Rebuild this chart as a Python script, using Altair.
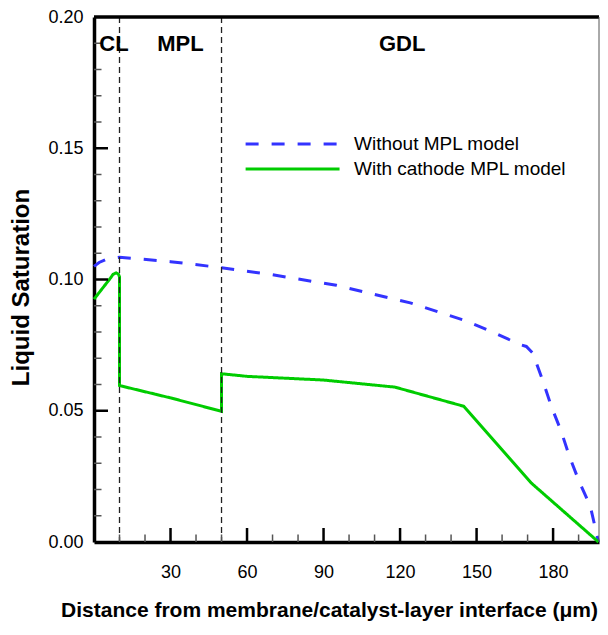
import altair as alt
import pandas as pd

# ---- data ----
series_names = ["Without MPL model", "With cathode MPL model"]

x_without = [0, 2, 5, 10, 30, 50, 70, 95, 124, 145, 157, 167, 169.5, 172, 175.8, 179.3, 183.2, 186.4, 190.2, 194.6, 197.8]
y_without = [0.1050, 0.1065, 0.1078, 0.1085, 0.1068, 0.1045, 0.1018, 0.0978, 0.0911, 0.0845, 0.0797, 0.0752, 0.0745, 0.0720, 0.0619, 0.0517, 0.0421, 0.0326, 0.0231, 0.0136, 0.0]

x_with = [0, 6.5, 7.5, 8.7, 9.6, 10, 10, 30, 50, 50, 60, 90, 118, 145, 171.4, 197.8]
y_with = [0.0925, 0.1006, 0.1020, 0.1025, 0.1020, 0.1010, 0.0596, 0.0549, 0.0498, 0.0641, 0.0631, 0.0617, 0.0590, 0.0517, 0.0225, 0.0]

boundary_x = [10, 50]
region_labels = ["CL", "MPL", "GDL"]
region_x = [7.8, 33.9, 120.8]

x_major = [30, 60, 90, 120, 150, 180]
x_minor = [10, 20, 40, 50, 70, 80, 100, 110, 130, 140, 160, 170, 190]
y_labels = [0.0, 0.05, 0.10, 0.15, 0.20]
y_major = [0.05, 0.10, 0.15]
y_minor = [0.01, 0.02, 0.03, 0.04, 0.06, 0.07, 0.08, 0.09, 0.11, 0.12, 0.13, 0.14, 0.16, 0.17, 0.18, 0.19]

# ---- tables ----
rows = []
for i, (xv, yv) in enumerate(zip(x_without, y_without)):
    rows.append({"series": series_names[0], "x": xv, "y": yv, "i": i})
for i, (xv, yv) in enumerate(zip(x_with, y_with)):
    rows.append({"series": series_names[1], "x": xv, "y": yv, "i": i})
df_lines = pd.DataFrame(rows)

W, H = 505, 525
FONT = "Liberation Sans"
xs = alt.Scale(domain=[0, 198], nice=False, zero=False)
ys = alt.Scale(domain=[0, 0.2], nice=False, zero=False)

leg = alt.Legend(
    title=None, orient="none", legendX=150, legendY=116,
    symbolType="M-1,0H9", symbolSize=353, symbolStrokeWidth=3,
    labelFontSize=19, labelFont=FONT, labelColor="black", labelOffset=88,
    labelLimit=400, rowPadding=4, padding=0, symbolOpacity=1,
)

lines = alt.Chart(df_lines).mark_line(strokeWidth=3).encode(
    x=alt.X("x:Q", scale=xs, axis=alt.Axis(
        values=x_major, title="Distance from membrane/catalyst-layer interface (\u03bcm)",
        titleFont=FONT, titleFontSize=21, titleFontWeight="bold", titleColor="black",
        titlePadding=18, titleX=235,
        labelFont=FONT, labelFontSize=18, labelColor="black", labelPadding=21,
        ticks=False, domainColor="black", domainWidth=3.5, grid=False,
    )),
    y=alt.Y("y:Q", scale=ys, axis=alt.Axis(
        values=y_labels, format=".2f", title="Liquid Saturation",
        titleFont=FONT, titleFontSize=24, titleFontWeight="bold", titleColor="black",
        titlePadding=14, titleY=270,
        labelFont=FONT, labelFontSize=18, labelColor="black", labelPadding=11,
        ticks=False, domainColor="black", domainWidth=3.5, grid=False,
    )),
    color=alt.Color("series:N", scale=alt.Scale(domain=series_names, range=["#3333ff", "#00cc00"]), legend=leg),
    strokeDash=alt.StrokeDash("series:N", scale=alt.Scale(domain=series_names, range=[[13, 13], [1, 0]]), legend=leg),
    order=alt.Order("i:Q"),
)

df_xmaj = pd.DataFrame({"x": x_major})
df_xmin = pd.DataFrame({"x": x_minor})
df_ymaj = pd.DataFrame({"y": y_major})
df_ymin = pd.DataFrame({"y": y_minor})

xmaj = alt.Chart(df_xmaj).mark_rule(color="black", strokeWidth=2.5).encode(
    x="x:Q", y=alt.value(H), y2=alt.value(H - 14))
xmin = alt.Chart(df_xmin).mark_rule(color="#555555", strokeWidth=1.5).encode(
    x="x:Q", y=alt.value(H), y2=alt.value(H - 7.5))
ymaj = alt.Chart(df_ymaj).mark_rule(color="black", strokeWidth=2.5).encode(
    y="y:Q", x=alt.value(0), x2=alt.value(14))
ymin = alt.Chart(df_ymin).mark_rule(color="#555555", strokeWidth=1.5).encode(
    y="y:Q", x=alt.value(0), x2=alt.value(7.5))

df_bound = pd.DataFrame({"x": boundary_x})
bounds = alt.Chart(df_bound).mark_rule(color="#222222", strokeWidth=1.3, strokeDash=[6, 4]).encode(
    x="x:Q", y=alt.value(0), y2=alt.value(H))

df_reg = pd.DataFrame({"x": region_x, "label": region_labels})
regions = alt.Chart(df_reg).mark_text(
    font=FONT, fontSize=22, fontWeight="bold", color="black", baseline="middle", align="center"
).encode(x="x:Q", y=alt.value(27), text="label:N")

df_frame = pd.DataFrame({"k": [0]})
top_border = alt.Chart(df_frame).mark_rule(color="black", strokeWidth=3.5).encode(
    x=alt.value(0), x2=alt.value(W), y=alt.value(0))
right_border = alt.Chart(df_frame).mark_rule(color="#555555", strokeWidth=1).encode(
    x=alt.value(W), y=alt.value(0), y2=alt.value(H))

chart = alt.layer(
    lines, bounds, xmin, xmaj, ymin, ymaj, regions, top_border, right_border
).properties(
    width=W, height=H,
    autosize=alt.AutoSizeParams(type="none"),
    padding={"left": 86, "top": 9, "right": 1, "bottom": 85},
    background="white",
).configure_view(stroke=None)

chart.save("out.html", embed_options={"renderer": "svg", "actions": False})
